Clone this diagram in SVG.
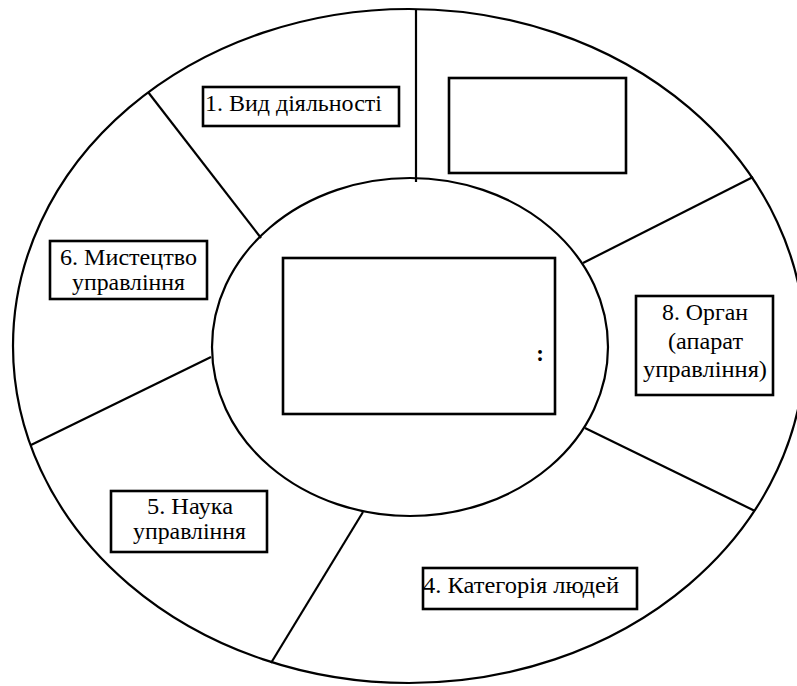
<svg xmlns="http://www.w3.org/2000/svg" width="797" height="686" viewBox="0 0 797 686">
<style>
.sh{fill:none;stroke:#000;stroke-width:2.2}
.bx{fill:#fff;stroke:#000;stroke-width:2.6}
.ln{stroke:#000;stroke-width:2.2;fill:none}
text{font-family:"Liberation Serif","Times New Roman",serif;font-size:23px;fill:#000}
.c{text-anchor:middle}
</style>
<rect width="797" height="686" fill="#fff"/>
<g id="outer-ring">
<ellipse class="sh" cx="409" cy="346" rx="396" ry="337"/>
</g>
<g id="connectors">
<line class="ln" x1="416" y1="9" x2="416" y2="182"/>
<line class="ln" x1="148" y1="92" x2="261" y2="238"/>
<line class="ln" x1="211" y1="357" x2="31" y2="445"/>
<line class="ln" x1="363" y1="512" x2="271" y2="663"/>
<line class="ln" x1="585" y1="428" x2="755" y2="511"/>
<line class="ln" x1="583" y1="263" x2="753" y2="177"/>
</g>
<g id="inner-ring">
<ellipse class="sh" cx="410" cy="347" rx="198" ry="169"/>
</g>
<g id="center">
<rect class="bx" x="283" y="258" width="272" height="156"/>
<text x="540" y="361" class="c" style="font-weight:bold">:</text>
</g>
<g id="top-right-box">
<rect class="bx" x="449" y="78" width="177" height="95"/>
</g>
<g id="node1">
<rect class="bx" x="203" y="87" width="196" height="39"/>
<text x="205" y="111" textLength="177" lengthAdjust="spacingAndGlyphs">1. Вид діяльності</text>
</g>
<g id="node6">
<rect class="bx" x="50" y="241" width="157" height="58"/>
<text x="60" y="265" textLength="137" lengthAdjust="spacingAndGlyphs">6. Мистецтво</text>
<text x="72" y="290" textLength="113" lengthAdjust="spacingAndGlyphs">управління</text>
</g>
<g id="node8">
<rect class="bx" x="636" y="296" width="137" height="99"/>
<text x="662" y="320" textLength="86" lengthAdjust="spacingAndGlyphs">8. Орган</text>
<text x="668" y="349" textLength="75" lengthAdjust="spacingAndGlyphs">(апарат</text>
<text x="643" y="377" textLength="124" lengthAdjust="spacingAndGlyphs">управління)</text>
</g>
<g id="node5">
<rect class="bx" x="111" y="491" width="156" height="61"/>
<text x="147" y="514" textLength="86" lengthAdjust="spacingAndGlyphs">5. Наука</text>
<text x="133" y="539" textLength="113" lengthAdjust="spacingAndGlyphs">управління</text>
</g>
<g id="node4">
<rect class="bx" x="423" y="568" width="214" height="41"/>
<text x="423" y="593" textLength="196" lengthAdjust="spacingAndGlyphs">4. Категорія людей</text>
</g>
</svg>
